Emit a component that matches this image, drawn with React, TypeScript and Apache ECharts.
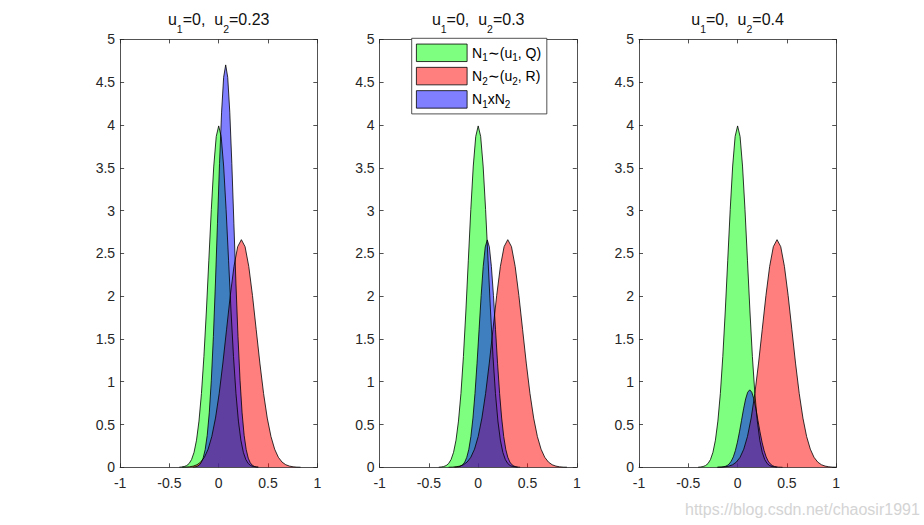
import React, { useEffect, useRef } from "react";
import * as echarts from "echarts";

// ---------- data ----------
const panelU2 = ["0.23", "0.3", "0.4"];
const xMin = -1;
const xMax = 1;
const xStep = 0.5;
const yMin = 0;
const yMax = 5;
const yStep = 0.5;

const legendNames = ["N1~(u1, Q)", "N2~(u2, R)", "N1xN2"];
const legendLabels = [
  "{n|N}{s|1}{n|∼(u}{s|1}{n|, Q)}",
  "{n|N}{s|2}{n|∼(u}{s|2}{n|, R)}",
  "{n|N}{s|1}{n|xN}{s|2}",
];
const watermark = "https://blog.csdn.net/chaosir1991";

// N1 ~ (u1=0, Q) : identical in every panel
const greenX = [-0.4, -0.375, -0.35, -0.325, -0.3, -0.275, -0.25, -0.225, -0.2, -0.175, -0.15, -0.125, -0.1, -0.075, -0.05, -0.025, 0, 0.025, 0.05, 0.075, 0.1, 0.125, 0.15, 0.175, 0.2, 0.225, 0.25, 0.275, 0.3, 0.325, 0.35, 0.375, 0.4];
const greenY = [0.001, 0.004, 0.009, 0.02, 0.044, 0.091, 0.175, 0.317, 0.54, 0.863, 1.295, 1.826, 2.42, 3.011, 3.52, 3.866, 3.989, 3.866, 3.52, 3.011, 2.42, 1.826, 1.295, 0.863, 0.54, 0.317, 0.175, 0.091, 0.044, 0.02, 0.009, 0.004, 0.001];

// N2 ~ (u2, R) : same profile, centred on u2 in each panel
const redY = [0.001, 0.002, 0.006, 0.014, 0.03, 0.061, 0.117, 0.212, 0.36, 0.575, 0.863, 1.218, 1.613, 2.008, 2.347, 2.578, 2.66, 2.578, 2.347, 2.008, 1.613, 1.218, 0.863, 0.575, 0.36, 0.212, 0.117, 0.061, 0.03, 0.014, 0.006, 0.002, 0.001];
const redX1 = [-0.37, -0.3325, -0.295, -0.2575, -0.22, -0.1825, -0.145, -0.1075, -0.07, -0.0325, 0.005, 0.0425, 0.08, 0.1175, 0.155, 0.1925, 0.23, 0.2675, 0.305, 0.3425, 0.38, 0.4175, 0.455, 0.4925, 0.53, 0.5675, 0.605, 0.6425, 0.68, 0.7175, 0.755, 0.7925, 0.83];
const redX2 = [-0.3, -0.2625, -0.225, -0.1875, -0.15, -0.1125, -0.075, -0.0375, 0, 0.0375, 0.075, 0.1125, 0.15, 0.1875, 0.225, 0.2625, 0.3, 0.3375, 0.375, 0.4125, 0.45, 0.4875, 0.525, 0.5625, 0.6, 0.6375, 0.675, 0.7125, 0.75, 0.7875, 0.825, 0.8625, 0.9];
const redX3 = [-0.2, -0.1625, -0.125, -0.0875, -0.05, -0.0125, 0.025, 0.0625, 0.1, 0.1375, 0.175, 0.2125, 0.25, 0.2875, 0.325, 0.3625, 0.4, 0.4375, 0.475, 0.5125, 0.55, 0.5875, 0.625, 0.6625, 0.7, 0.7375, 0.775, 0.8125, 0.85, 0.8875, 0.925, 0.9625, 1.0];

// N1 x N2 in each panel
const blueX1 = [-0.262, -0.2412, -0.2204, -0.1996, -0.1788, -0.158, -0.1372, -0.1164, -0.0956, -0.0748, -0.054, -0.0332, -0.0124, 0.0084, 0.0292, 0.05, 0.0708, 0.0916, 0.1124, 0.1332, 0.154, 0.1748, 0.1956, 0.2164, 0.2372, 0.258, 0.2788, 0.2996, 0.3204, 0.3412, 0.362, 0.3828, 0.4036];
const blueY1 = [0.002, 0.004, 0.01, 0.024, 0.052, 0.107, 0.207, 0.374, 0.636, 1.017, 1.527, 2.153, 2.852, 3.549, 4.15, 4.557, 4.702, 4.557, 4.15, 3.549, 2.852, 2.153, 1.527, 1.017, 0.636, 0.374, 0.207, 0.107, 0.052, 0.024, 0.01, 0.004, 0.002];
const blueX2 = [-0.2405, -0.2197, -0.1989, -0.1781, -0.1573, -0.1365, -0.1157, -0.0949, -0.0741, -0.0533, -0.0325, -0.0117, 0.0091, 0.0299, 0.0507, 0.0715, 0.0923, 0.1131, 0.1339, 0.1547, 0.1755, 0.1963, 0.2171, 0.2379, 0.2587, 0.2795, 0.3003, 0.3211, 0.3419, 0.3627, 0.3835, 0.4043, 0.4251];
const blueY2 = [0.001, 0.002, 0.006, 0.014, 0.03, 0.061, 0.117, 0.211, 0.36, 0.575, 0.863, 1.216, 1.612, 2.006, 2.345, 2.575, 2.657, 2.575, 2.345, 2.006, 1.612, 1.216, 0.863, 0.575, 0.36, 0.211, 0.117, 0.061, 0.03, 0.014, 0.006, 0.002, 0.001];
const blueX3 = [-0.2097, -0.1889, -0.1681, -0.1473, -0.1265, -0.1057, -0.0849, -0.0641, -0.0433, -0.0225, -0.0017, 0.0191, 0.0399, 0.0607, 0.0815, 0.1023, 0.1231, 0.1439, 0.1647, 0.1855, 0.2063, 0.2271, 0.2479, 0.2687, 0.2895, 0.3103, 0.3311, 0.3519, 0.3727, 0.3935, 0.4143, 0.4351, 0.4559];
const blueY3 = [0, 0.001, 0.002, 0.005, 0.01, 0.021, 0.04, 0.072, 0.122, 0.196, 0.294, 0.414, 0.549, 0.683, 0.799, 0.877, 0.905, 0.877, 0.799, 0.683, 0.549, 0.414, 0.294, 0.196, 0.122, 0.072, 0.04, 0.021, 0.01, 0.005, 0.002, 0.001, 0];

// ---------- styling ----------
const FONT = '"Liberation Sans", Arial, Helvetica, sans-serif';
const AXIS_COLOR = "#262626";
const FILLS = ["rgba(0,255,0,0.5)", "rgba(255,0,0,0.5)", "rgba(0,0,255,0.5)"];
const GRID_LEFTS = [120.1, 379.6, 639.0];
const GRID_W = 197.2;
const GRID_TOP = 39.4;
const GRID_H = 427.9;

const panelCurves = [
  [[greenX, greenY], [redX1, redY], [blueX1, blueY1]],
  [[greenX, greenY], [redX2, redY], [blueX2, blueY2]],
  [[greenX, greenY], [redX3, redY], [blueX3, blueY3]],
];

function pairs(xs: number[], ys: number[]) {
  return xs.map((x, k) => [x, ys[k]]);
}

function buildOption() {
  const lineStyle = { color: AXIS_COLOR, width: 0.8 };
  const grid: any[] = [];
  const xAxis: any[] = [];
  const yAxis: any[] = [];
  const title: any[] = [];
  const series: any[] = [];

  GRID_LEFTS.forEach((left, i) => {
    grid.push({ left, top: GRID_TOP, width: GRID_W, height: GRID_H, containLabel: false });
    ["bottom", "top"].forEach((pos) => {
      xAxis.push({
        type: "value",
        gridIndex: i,
        position: pos,
        min: xMin,
        max: xMax,
        interval: xStep,
        axisLine: { show: true, onZero: false, lineStyle },
        axisTick: { show: true, inside: true, length: 4, lineStyle },
        axisLabel: {
          show: pos === "bottom",
          margin: 9,
          color: AXIS_COLOR,
          fontSize: 14,
          lineHeight: 14,
          fontFamily: FONT,
        },
        splitLine: { show: false },
      });
    });
    ["left", "right"].forEach((pos) => {
      yAxis.push({
        type: "value",
        gridIndex: i,
        position: pos,
        min: yMin,
        max: yMax,
        interval: yStep,
        axisLine: { show: true, onZero: false, lineStyle },
        axisTick: { show: true, inside: true, length: 4, lineStyle },
        axisLabel: {
          show: pos === "left",
          margin: 5,
          color: AXIS_COLOR,
          fontSize: 14,
          fontFamily: FONT,
        },
        splitLine: { show: false },
      });
    });
    title.push({
      text: `{n|u}{s|1}{n|=0,  u}{s|2}{n|=${panelU2[i]}}`,
      left: left + GRID_W / 2,
      top: 11.2,
      textAlign: "center",
      padding: 0,
      textStyle: {
        fontFamily: FONT,
        fontSize: 16,
        fontWeight: "normal",
        color: "#111",
        rich: {
          n: { fontFamily: FONT, fontSize: 16, lineHeight: 17, color: "#111" },
          s: { fontFamily: FONT, fontSize: 10.5, lineHeight: 10, color: "#111", padding: [19, 0, 0, 0] },
        },
      },
    });
    panelCurves[i].forEach(([xs, ys], c) => {
      series.push({
        type: "line",
        name: legendNames[c],
        xAxisIndex: 2 * i,
        yAxisIndex: 2 * i,
        data: pairs(xs as number[], ys as number[]),
        showSymbol: false,
        symbol: "none",
        silent: true,
        lineStyle: { color: "#000", width: 0.8 },
        itemStyle: { color: FILLS[c] },
        areaStyle: { color: FILLS[c], opacity: 1 },
      });
    });
  });

  return {
    animation: false,
    backgroundColor: "#ffffff",
    title,
    grid,
    xAxis,
    yAxis,
    series,
    legend: {
      orient: "vertical",
      left: 411.7,
      top: 38.3,
      padding: [4.5, 5.7, 4.5, 4.3],
      itemWidth: 50.7,
      itemHeight: 17.5,
      itemGap: 3.3,
      selectedMode: false,
      backgroundColor: "#ffffff",
      borderColor: AXIS_COLOR,
      borderWidth: 0.8,
      borderRadius: 0,
      data: legendNames.map((name, c) => ({
        name,
        icon: "rect",
        itemStyle: { color: FILLS[c], borderColor: "#000", borderWidth: 0.8 },
      })),
      formatter: (name: string) => legendLabels[legendNames.indexOf(name)],
      textStyle: {
        fontFamily: FONT,
        fontSize: 14,
        color: "#000",
        rich: {
          n: { fontFamily: FONT, fontSize: 14, lineHeight: 20, color: "#000" },
          s: { fontFamily: FONT, fontSize: 10, lineHeight: 10, color: "#000", padding: [10, 0, 0, 0] },
        },
      },
    },
    graphic: [
      {
        type: "text",
        x: 685,
        y: 509.5,
        silent: true,
        style: {
          text: watermark,
          fill: "#d4d4d4",
          font: `16px ${FONT}`,
          textVerticalAlign: "middle",
        },
      },
    ],
  };
}

export default function App() {
  const ref = useRef<HTMLDivElement>(null);
  useEffect(() => {
    if (!ref.current) return;
    const chart = echarts.init(ref.current, undefined, { renderer: "svg" });
    chart.setOption(buildOption() as any);
    return () => {
      chart.dispose();
    };
  }, []);
  return (
    <div
      ref={ref}
      style={{ position: "fixed", left: 0, top: 0, width: 924, height: 525, background: "#fff" }}
    />
  );
}
